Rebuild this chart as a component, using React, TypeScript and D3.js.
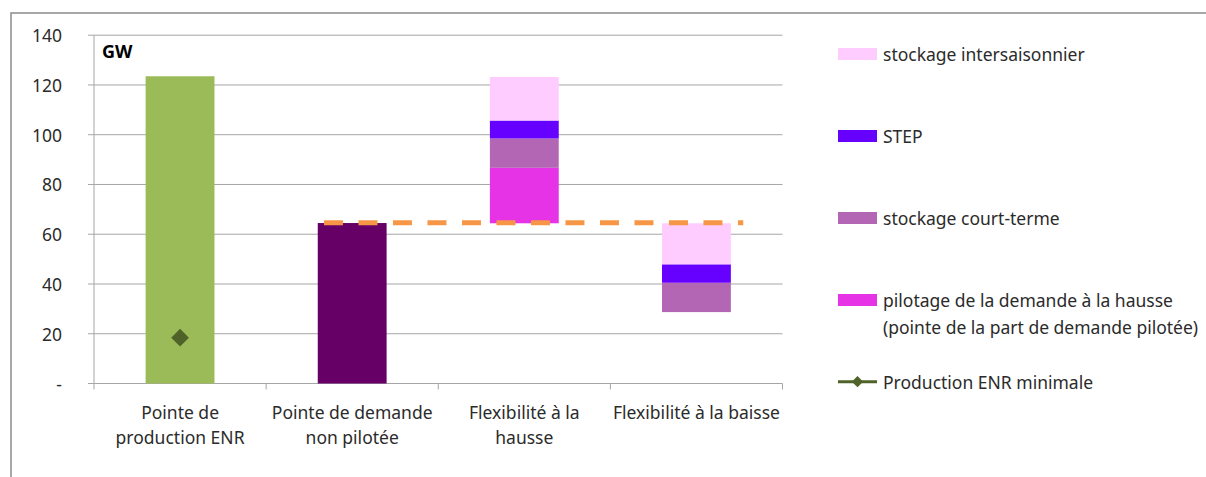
import React from "react";
import * as d3 from "d3";

const categories = ["enr", "demande", "hausse", "baisse"];
const categoryLabels: string[][] = [
  ["Pointe de", "production ENR"],
  ["Pointe de demande", "non pilotée"],
  ["Flexibilité à la", "hausse"],
  ["Flexibilité à la baisse"],
];

// stacked series (bottom to top); "base" is invisible
const baseValues = [0, 0, 64.4, 28.7];
const enrValues = [123.5, 0, 0, 0];
const demandeValues = [0, 64.5, 0, 0];
const pilotageValues = [0, 0, 22.3, 0];
const courtTermeValues = [0, 0, 11.8, 11.8];
const stepValues = [0, 0, 7.2, 7.4];
const intersaisonnierValues = [0, 0, 17.5, 16.5];

const minEnrValues: (number | null)[] = [18.4, null, null, null];
const demandLevel = 64.6;

const yTicks = [0, 20, 40, 60, 80, 100, 120, 140];
const yTickLabels = ["-", "20", "40", "60", "80", "100", "120", "140"];

const seriesKeys = ["base", "enr", "demande", "pilotage", "courtTerme", "step", "intersaisonnier"];
const seriesColors: Record<string, string> = {
  base: "none",
  enr: "#9BBB59",
  demande: "#660066",
  pilotage: "#E633E6",
  courtTerme: "#B366B3",
  step: "#6600FF",
  intersaisonnier: "#FFCCFF",
};

const legendItems = [
  { label: ["stockage intersaisonnier"], color: "#FFCCFF", kind: "rect" },
  { label: ["STEP"], color: "#6600FF", kind: "rect" },
  { label: ["stockage court-terme"], color: "#B366B3", kind: "rect" },
  {
    label: ["pilotage de la demande à la hausse", "(pointe de la part de demande pilotée)"],
    color: "#E633E6",
    kind: "rect",
  },
  { label: ["Production ENR minimale"], color: "#4F6228", kind: "line" },
];

const FONT = "'Noto Sans', sans-serif";
const TEXT = "#2b2b2b";

export default function App() {
  const W = 1206;
  const H = 477;
  const left = 94;
  const right = 782.5;
  const x = d3
    .scaleBand<string>()
    .domain(categories)
    .range([left, right])
    .paddingInner(0.6)
    .paddingOuter(0.3);
  const y = d3.scaleLinear().domain([0, 140]).range([383.5, 35.2]);
  const step = x.step();
  const bw = x.bandwidth();

  const table = categories.map((c, i) => ({
    cat: c,
    base: baseValues[i],
    enr: enrValues[i],
    demande: demandeValues[i],
    pilotage: pilotageValues[i],
    courtTerme: courtTermeValues[i],
    step: stepValues[i],
    intersaisonnier: intersaisonnierValues[i],
  }));
  const stacked = d3.stack<any>().keys(seriesKeys)(table);

  const diamond = d3.symbol().type(d3.symbolDiamond2).size(200)();
  const legendDiamond = d3.symbol().type(d3.symbolDiamond2).size(80)();

  const dashX1 = (x(categories[1]) as number) + bw * 0.09;
  const dashX2 = (x(categories[3]) as number) + bw * 1.18;

  const legendY = [54, 136, 218, 300, 381.7];

  return (
    <svg
      width={W}
      height={H}
      style={{ position: "absolute", left: 0, top: 0, background: "#fff" }}
    >
      <rect x={11} y={13} width={1300} height={600} fill="#fff" stroke="#8a8a8a" strokeWidth={1.5} />

      {/* gridlines */}
      {yTicks.map((t) => (
        <line key={"g" + t} x1={left} x2={right} y1={y(t)} y2={y(t)} stroke="#a6a6a6" strokeWidth={1} />
      ))}
      {/* y axis */}
      <line x1={left} x2={left} y1={y(140)} y2={y(0)} stroke="#a6a6a6" strokeWidth={1} />
      {yTicks.map((t, i) => (
        <g key={"yt" + t}>
          <line x1={left - 6} x2={left} y1={y(t)} y2={y(t)} stroke="#a6a6a6" />
          <text
            x={62}
            y={y(t)}
            textAnchor="end"
            dominantBaseline="central"
            fontFamily={FONT}
            fontSize={17.5}
            fill={TEXT}
          >
            {yTickLabels[i]}
          </text>
        </g>
      ))}
      {/* x ticks */}
      {d3.range(categories.length + 1).map((i) => (
        <line
          key={"xt" + i}
          x1={left + i * step}
          x2={left + i * step}
          y1={y(0)}
          y2={y(0) + 6}
          stroke="#a6a6a6"
        />
      ))}

      {/* bars */}
      {stacked.map((s) =>
        s.key === "base"
          ? null
          : s.map((d, i) =>
              d[1] - d[0] > 0 ? (
                <rect
                  key={s.key + i}
                  x={x(categories[i])}
                  width={bw}
                  y={y(d[1])}
                  height={y(d[0]) - y(d[1])}
                  fill={seriesColors[s.key]}
                />
              ) : null
            )
      )}

      {/* demand level dashed line */}
      <line
        x1={dashX1}
        x2={dashX2}
        y1={y(demandLevel)}
        y2={y(demandLevel)}
        stroke="#F79646"
        strokeWidth={5}
        strokeDasharray="19 15.5"
      />

      {/* minimal ENR marker */}
      {minEnrValues.map((v, i) =>
        v == null ? null : (
          <path
            key={"m" + i}
            d={diamond as string}
            transform={`translate(${(x(categories[i]) as number) + bw / 2},${y(v)})`}
            fill="#4F6228"
          />
        )
      )}

      {/* GW label */}
      <text x={102} y={51} dominantBaseline="central" fontFamily={FONT} fontWeight="bold" fontSize={18} fill="#000">
        GW
      </text>

      {/* category labels */}
      {categoryLabels.map((lines, i) => (
        <text
          key={"c" + i}
          x={(x(categories[i]) as number) + bw / 2}
          textAnchor="middle"
          fontFamily={FONT}
          fontSize={17.5}
          fill={TEXT}
        >
          {lines.map((l, j) => (
            <tspan key={j} x={(x(categories[i]) as number) + bw / 2} y={411.7 + j * 25} dominantBaseline="central">
              {l}
            </tspan>
          ))}
        </text>
      ))}

      {/* legend */}
      {legendItems.map((it, i) => (
        <g key={"l" + i}>
          {it.kind === "rect" ? (
            <rect x={838} y={legendY[i] - 6} width={39} height={12} fill={it.color} />
          ) : (
            <g>
              <line x1={838} x2={877} y1={legendY[i]} y2={legendY[i]} stroke={it.color} strokeWidth={3} />
              <path d={legendDiamond as string} transform={`translate(857.5,${legendY[i]})`} fill={it.color} />
            </g>
          )}
          <text fontFamily={FONT} fontSize={17.5} fill={TEXT}>
            {it.label.map((l, j) => (
              <tspan key={j} x={883} y={legendY[i] + j * 26.7} dominantBaseline="central">
                {l}
              </tspan>
            ))}
          </text>
        </g>
      ))}
    </svg>
  );
}
